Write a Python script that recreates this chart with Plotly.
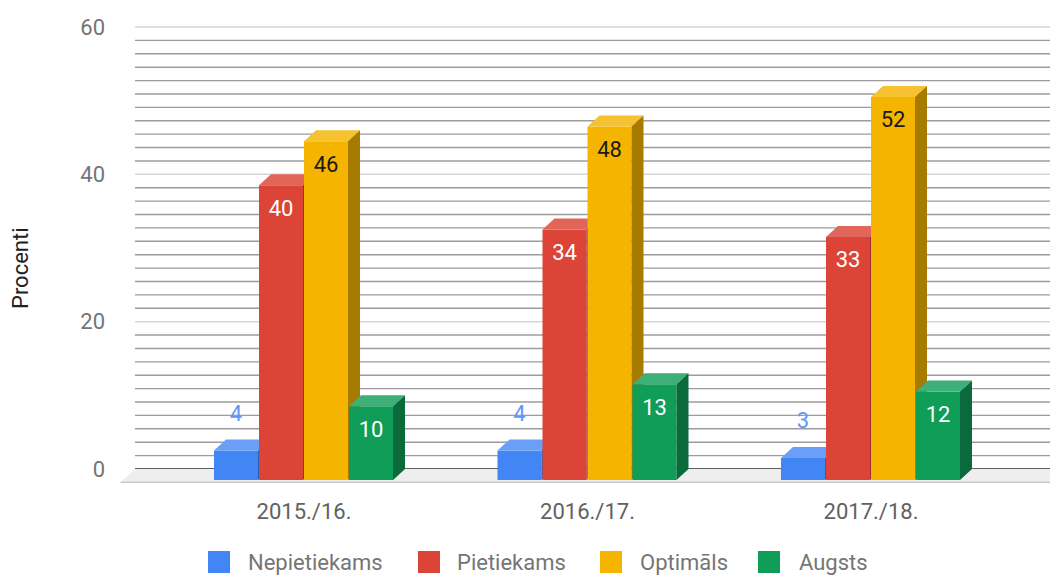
import plotly.graph_objects as go

categories = ['2015./16.', '2016./17.', '2017./18.']
series_names = ['Nepietiekams', 'Pietiekams', 'Optimāls', 'Augsts']
nepietiekams = [4, 4, 3]
pietiekams = [40, 34, 33]
optimals = [46, 48, 52]
augsts = [10, 13, 12]
y_ticks = [0, 20, 40, 60]

series_values = [nepietiekams, pietiekams, optimals, augsts]
front_colors = ['#4285f4', '#db4437', '#f4b400', '#0f9d58']
top_colors = ['#6b9ff7', '#e2655a', '#f6c232', '#3daf77']
side_colors = ['#2d5fb3', '#9e2f26', '#a77b00', '#0a6a3b']
label_colors = ['#5e97f6', '#ffffff', '#1a1a1a', '#ffffff']

FONT = 'Roboto'
FS = 22

# the page puts the figure 8px in from the top-left corner, so every
# reference pixel position below is taken minus that offset
OFF = 8
W, H = 1058 - OFF, 575 - OFF
L, R, T, B = 118 - OFF, 1058 - OFF, 23 - OFF, 493 - OFF
x_px0, x_step = 304 - OFF, 283.5      # centre of first category (front plane), px per category
y_px0, y_step = 469 - OFF, 442 / 60   # px of value 0 on the back wall, px per unit
wall_px = 135 - OFF

dx = 12 / x_step   # 3d depth, in axis units
dy = 11 / y_step
slot = 45 / x_step
bw = 44 / x_step

x_range = [(L - x_px0) / x_step, (R - x_px0) / x_step]
y_range = [-(B - y_px0) / y_step, (y_px0 - T) / y_step]
wall_x = (wall_px - x_px0) / x_step


def px_x(px):
    return (px - OFF - L) / (R - L)


def px_y(py):
    return (B - (py - OFF)) / (B - T)


fig = go.Figure()

# floor
floor_y = -dy - 0.3
fig.add_trace(go.Scatter(x=[wall_x, x_range[1], x_range[1], wall_x - dx * 1.2],
                         y=[0, 0, floor_y, floor_y], fill='toself', fillcolor='#eeeeee',
                         mode='lines', line=dict(width=0), hoverinfo='skip', showlegend=False))
fig.add_trace(go.Scatter(x=[wall_x - dx * 1.2, x_range[1]], y=[floor_y, floor_y], mode='lines',
                         line=dict(color='#c8c8c8', width=1.5), hoverinfo='skip', showlegend=False))

# wall grid lines
shapes = []
for k in range(34):
    v = k * 20 / 11
    if k % 11 == 0:
        color, width = ('#5f5f5f', 2) if k == 0 else ('#d6d6d6', 1.5)
    else:
        color, width = '#9c9c9c', 1.4
    shapes.append(dict(type='line', xref='x', yref='y', x0=wall_x, x1=x_range[1], y0=v, y1=v,
                       line=dict(color=color, width=width), layer='below'))

# 3d columns
for i, (name, vals) in enumerate(zip(series_names, series_values)):
    fx, fy, tx, ty, sx, sy = [], [], [], [], [], []
    lx, ly = [], []
    for c, v in enumerate(vals):
        xl = c - 2 * slot + i * slot
        xr = xl + bw
        top = v - dy
        fx += [xl, xr, xr, xl, None]
        fy += [-dy, -dy, top, top, None]
        tx += [xl, xr, xr + dx, xl + dx, None]
        ty += [top, top, v, v, None]
        sx += [xr, xr + dx, xr + dx, xr, None]
        sy += [top, v, 0, -dy, None]
        lx.append((xl + xr) / 2)
        ly.append(top + 4.8 if v < 8 else top - 3.4)
    common = dict(mode='lines', line=dict(width=0), hoverinfo='skip', showlegend=False)
    fig.add_trace(go.Scatter(x=fx, y=fy, fill='toself', fillcolor=front_colors[i], name=name, **common))
    fig.add_trace(go.Scatter(x=tx, y=ty, fill='toself', fillcolor=top_colors[i], **common))
    fig.add_trace(go.Scatter(x=sx, y=sy, fill='toself', fillcolor=side_colors[i], **common))
    colors = [label_colors[0] if v < 8 else label_colors[i] for v in vals]
    fig.add_trace(go.Scatter(x=lx, y=ly, mode='text', text=[str(v) for v in vals],
                             textfont=dict(family=FONT, size=FS, color=colors),
                             hoverinfo='skip', showlegend=False))

# legend (drawn by hand to get the big swatches)
legend_sq = [208, 418, 600, 758]
legend_tx = [246, 455, 638, 797]
annotations = []
for i, name in enumerate(series_names):
    shapes.append(dict(type='rect', xref='paper', yref='paper',
                       x0=px_x(legend_sq[i]), x1=px_x(legend_sq[i] + 22),
                       y0=px_y(573), y1=px_y(551), fillcolor=front_colors[i],
                       line=dict(width=0)))
    annotations.append(dict(xref='paper', yref='paper', x=px_x(legend_tx[i]), y=px_y(562),
                            xanchor='left', yanchor='middle', text=name, showarrow=False,
                            font=dict(family=FONT, size=FS, color='#757575')))

annotations.append(dict(xref='paper', yref='paper', x=px_x(20), y=px_y(268), text='Procenti',
                        textangle=-90, showarrow=False, xanchor='center', yanchor='middle',
                        font=dict(family=FONT, size=FS, color='#222222')))

fig.update_layout(
    width=W, height=H,
    margin=dict(l=L, r=W - R, t=T, b=H - B, pad=0),
    paper_bgcolor='white', plot_bgcolor='white',
    showlegend=False,
    shapes=shapes, annotations=annotations,
    font=dict(family=FONT),
    xaxis=dict(range=x_range, tickvals=[0, 1, 2], ticktext=categories, showgrid=False,
               zeroline=False, showline=False, ticks='', ticklabelstandoff=3,
               tickfont=dict(family=FONT, size=FS, color='#616161'), fixedrange=True),
    yaxis=dict(range=y_range, tickvals=y_ticks, showgrid=False, zeroline=False, showline=False,
               ticks='', ticklabelstandoff=12,
               tickfont=dict(family=FONT, size=FS, color='#757575'), fixedrange=True),
)

fig.write_html('out.html')
